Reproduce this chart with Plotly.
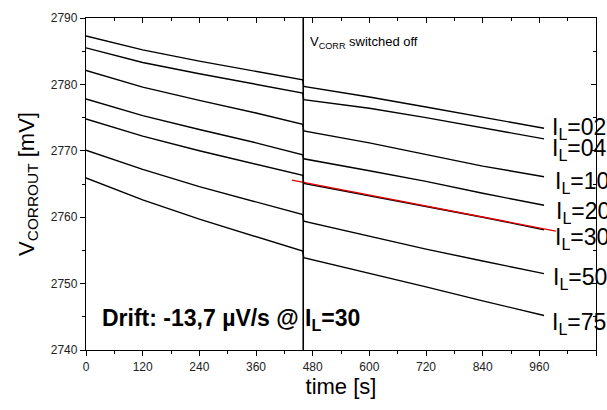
import plotly.graph_objects as go

# time points (s)
t_points = [0, 120, 240, 360, 459, 461, 600, 720, 840, 970]

# V_CORROUT (mV) for each load current
curves = {
    "02": [2787.3, 2785.2, 2783.5, 2782.0, 2780.7, 2779.7, 2778.1, 2776.6, 2775.1, 2773.4],
    "04": [2785.5, 2783.3, 2781.6, 2780.0, 2778.7, 2777.7, 2776.4, 2775.0, 2773.5, 2771.8],
    "10": [2782.1, 2779.6, 2777.6, 2775.7, 2774.0, 2773.0, 2771.2, 2769.4, 2767.7, 2766.1],
    "20": [2777.8, 2775.3, 2773.2, 2771.2, 2769.4, 2768.8, 2767.0, 2765.4, 2763.6, 2761.8],
    "30": [2774.8, 2772.2, 2770.0, 2768.0, 2766.3, 2765.1, 2763.2, 2761.6, 2760.0, 2758.1],
    "50": [2770.1, 2767.2, 2764.6, 2762.3, 2760.4, 2759.4, 2757.1, 2755.2, 2753.4, 2751.5],
    "75": [2765.9, 2762.6, 2759.7, 2757.1, 2754.9, 2753.9, 2751.6, 2749.5, 2747.4, 2745.2],
}

# linear fit for I_L=30 after switch-off
fit_t = [436, 995]
fit_v = [2765.6, 2757.9]

switch_time = 460
y_range = [2740, 2790]
x_range = [0, 1080]

# label positions (time, mV) for right-hand labels
label_t = [982, 982, 988, 990, 988, 985, 982]
label_v = [2773.4, 2770.2, 2765.2, 2760.7, 2756.8, 2750.8, 2744.0]

font_family = "Liberation Sans, Arial, sans-serif"

fig = go.Figure()

for name, vals in curves.items():
    fig.add_trace(go.Scatter(x=t_points, y=vals, mode="lines",
                             line=dict(color="black", width=1.4),
                             name="I_L=" + name, showlegend=False))

fig.add_trace(go.Scatter(x=fit_t, y=fit_v, mode="lines",
                         line=dict(color="#e00000", width=1.3),
                         showlegend=False, name="fit"))

fig.add_trace(go.Scatter(x=[switch_time, switch_time], y=y_range, mode="lines",
                         line=dict(color="black", width=1.6),
                         showlegend=False, name="switch"))

# dummy trace for mirrored axes
fig.add_trace(go.Scatter(x=[None], y=[None], xaxis="x2", yaxis="y2",
                         showlegend=False, hoverinfo="skip"))

for (name, lt, lv) in zip(curves.keys(), label_t, label_v):
    fig.add_annotation(x=lt, y=lv, xref="x", yref="y",
                       text="I<sub>L</sub>=" + name, showarrow=False,
                       xanchor="left", yanchor="middle",
                       font=dict(family=font_family, size=23, color="black"))

fig.add_annotation(x=30, y=2744.6, xref="x", yref="y",
                   text="<b>Drift: -13,7 µV/s @ I<sub>L</sub>=30</b>",
                   showarrow=False, xanchor="left", yanchor="middle",
                   font=dict(family=font_family, size=23, color="black"))

fig.add_annotation(x=470, y=2786.3, xref="x", yref="y",
                   text="V<sub>CORR</sub> switched off",
                   showarrow=False, xanchor="left", yanchor="middle",
                   font=dict(family=font_family, size=13, color="black"))

axis_common = dict(showline=True, linecolor="black", linewidth=1.3,
                   tickcolor="black", showgrid=False, zeroline=False,
                   tickfont=dict(family=font_family, size=12, color="#222"))

fig.update_layout(
    width=607, height=410,
    margin=dict(l=86, r=11, t=13, b=60),
    paper_bgcolor="white", plot_bgcolor="white",
    font=dict(family=font_family, color="black"),
    xaxis=dict(range=x_range, dtick=120, tick0=0, ticks="outside", ticklen=5,
               minor=dict(dtick=60, ticks="outside", ticklen=3, tickcolor="black"),
               title=dict(text="time [s]", font=dict(size=22, family=font_family), standoff=6),
               **axis_common),
    yaxis=dict(range=y_range, dtick=10, ticks="outside", ticklen=5,
               minor=dict(dtick=5, ticks="outside", ticklen=3, tickcolor="black"),
               title=dict(text="V<sub>CORROUT</sub> [mV]", font=dict(size=22, family=font_family), standoff=10),
               **axis_common),
    xaxis2=dict(range=x_range, overlaying="x", side="top", anchor="y2", dtick=120, tick0=0,
                ticks="inside", ticklen=5, showticklabels=False,
                minor=dict(dtick=60, ticks="inside", ticklen=3, tickcolor="black"),
                showline=True, linecolor="black", linewidth=1.3, tickcolor="black",
                showgrid=False, zeroline=False),
    yaxis2=dict(range=y_range, overlaying="y", side="right", anchor="x2", dtick=10,
                ticks="inside", ticklen=5, showticklabels=False,
                minor=dict(dtick=5, ticks="inside", ticklen=3, tickcolor="black"),
                showline=True, linecolor="black", linewidth=1.3, tickcolor="black",
                showgrid=False, zeroline=False),
)

fig.write_html("out.html")
